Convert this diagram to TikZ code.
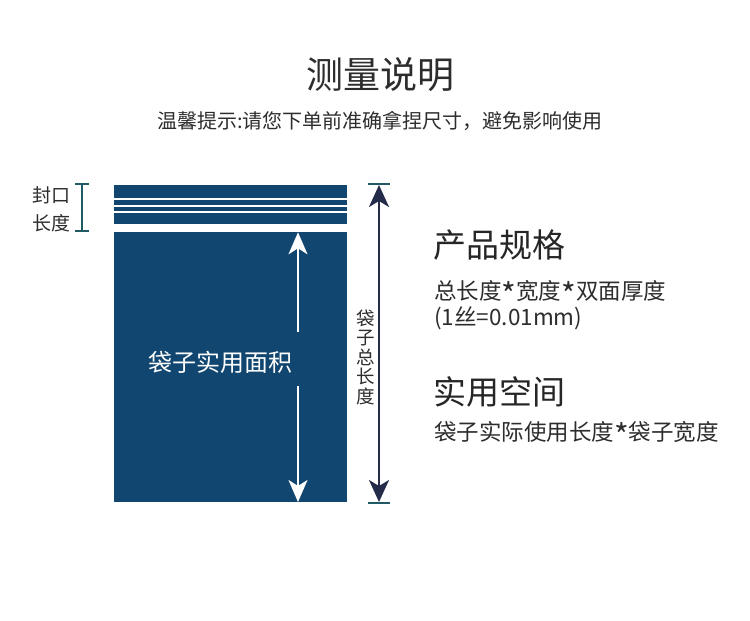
\documentclass[tikz,border=0pt]{standalone}
\usepackage{fontspec}
\newfontfamily\cjk{Noto Sans CJK SC}
\usetikzlibrary{arrows.meta}
\definecolor{bagblue}{RGB}{17,70,112}
\definecolor{txt}{RGB}{45,45,45}
\definecolor{navy}{RGB}{36,44,74}
\definecolor{tealdk}{RGB}{32,90,100}
\newcommand{\myast}{\smash{\raisebox{-0.32em}{\scalebox{1.4}{*}}}}
\tikzset{
  lbl/.style={font=\cjk, text=txt, inner sep=0pt},
  band/.style={fill=bagblue, draw=none},
  wharrow/.style={white, line width=2pt, -{Stealth[length=22pt,width=19pt,inset=6pt]}},
  nvarrow/.style={navy, line width=2.4pt, {Stealth[length=22pt,width=20pt,inset=6pt]}-{Stealth[length=22pt,width=20pt,inset=6pt]}},
  tick/.style={tealdk, line width=2pt},
}
\begin{document}
\begin{tikzpicture}[x=1pt,y=-1pt]
\useasboundingbox (0,0) rectangle (750,621);
\fill[white] (0,0) rectangle (750,621);
% title
\node[lbl, font=\cjk\fontsize{37}{40}\selectfont] (title) at (380,75) {测量说明};
\node[lbl, font=\cjk\fontsize{20}{22}\selectfont] (sub) at (380,121) {温馨提示:请您下单前准确拿捏尺寸，避免影响使用};
% bag
\fill[band] (114,185) rectangle (347,197.7);
\fill[band] (114,200.3) rectangle (347,205.3);
\fill[band] (114,207) rectangle (347,210.7);
\fill[band] (114,212.7) rectangle (347,224.3);
\fill[band] (114,232.3) rectangle (347,502);
\node[lbl, text=white, font=\cjk\fontsize{24}{26}\selectfont] (area) at (220,362) {袋子实用面积};
\coordinate (wtop) at (298,232.3);
\coordinate (wtopend) at (298,332);
\coordinate (wbot) at (298,502);
\coordinate (wbotstart) at (298,386);
\draw[wharrow] (wtopend) -- (wtop);
\draw[wharrow] (wbotstart) -- (wbot);
% seal bracket
\node[lbl, font=\cjk\fontsize{19}{28}\selectfont, align=left] (seal) at (51,209) {封口\\长度};
\coordinate (sT) at (82,184);
\coordinate (sB) at (82,231);
\draw[tick] (sT) -- (sB);
\draw[tick] (75,184) -- (89,184);
\draw[tick] (75,231) -- (89,231);
% total length arrow
\coordinate (aT) at (379,185);
\coordinate (aB) at (379,502);
\draw[nvarrow] (aT) -- (aB);
\draw[tick] (368,184) -- (390,184);
\draw[tick] (368,503) -- (390,503);
\node[lbl, font=\cjk\fontsize{18.5}{19.5}\selectfont, align=center] (total) at (366,357) {袋\\子\\总\\长\\度};
% right texts
\node[lbl, anchor=west, text=black!85, font=\cjk\fontsize{33}{36}\selectfont] (spec) at (433,245) {产品规格};
\node[lbl, anchor=north west, align=left, font=\cjk\fontsize{22.5}{26}\selectfont] (spec1) at (434,280) {总长度\myast 宽度\myast 双面厚度\\(1丝=0.01mm)};
\node[lbl, anchor=west, text=black!85, font=\cjk\fontsize{33}{36}\selectfont] (space) at (433,392) {实用空间};
\node[lbl, anchor=west, font=\cjk\fontsize{22.5}{24}\selectfont] (space1) at (434,432) {袋子实际使用长度\myast 袋子宽度};
\end{tikzpicture}
\end{document}
